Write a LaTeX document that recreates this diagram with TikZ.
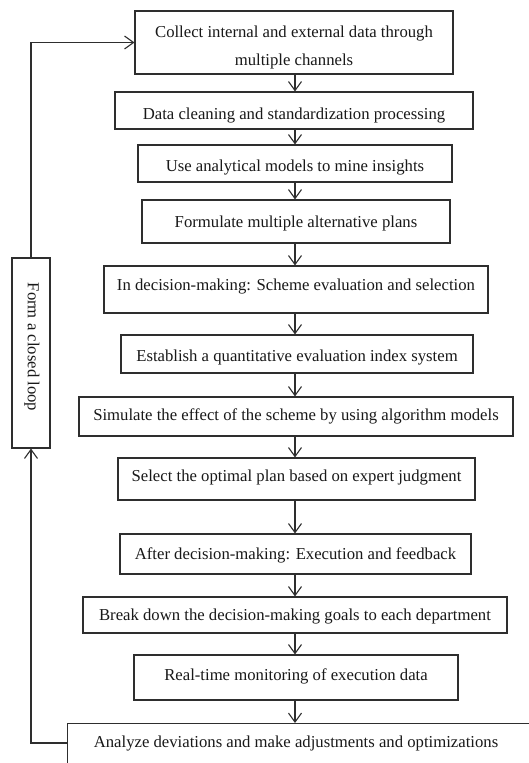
\documentclass[tikz,border=0pt]{standalone}
\usepackage{fontspec}
\setmainfont{Liberation Serif}
\usetikzlibrary{arrows.meta}
\tikzset{
  stepbox/.style={draw=black!82, line width=1.1pt, inner sep=0pt},
  txt/.style={inner sep=0pt, align=center, text=black!90, font=\fontsize{16.7}{28}\selectfont},
  flow/.style={draw=black!82, line width=1.1pt, -{Straight Barb[length=9pt,width=13pt,line width=1.1pt]}},
  edge/.style={draw=black!82, line width=1.1pt}
}
\begin{document}
\begin{tikzpicture}[x=1pt,y=-1pt]
\clip (0,0) rectangle (529,763);
\fill[white] (0,0) rectangle (529,763);
\node[stepbox, minimum width=318pt, minimum height=63pt] (b1) at (294,42.5) {};
\node[stepbox, minimum width=358pt, minimum height=37pt] (b2) at (294,110.5) {};
\node[stepbox, minimum width=314pt, minimum height=37pt] (b3) at (295,163.5) {};
\node[stepbox, minimum width=308pt, minimum height=43pt] (b4) at (296,221.5) {};
\node[stepbox, minimum width=384pt, minimum height=47pt] (b5) at (296,289.5) {};
\node[stepbox, minimum width=352pt, minimum height=38pt] (b6) at (297,354) {};
\node[stepbox, minimum width=434pt, minimum height=39pt] (b7) at (296,416.5) {};
\node[stepbox, minimum width=357pt, minimum height=42pt] (b8) at (296.5,479) {};
\node[stepbox, minimum width=351pt, minimum height=40pt] (b9) at (295.5,554) {};
\node[stepbox, minimum width=424pt, minimum height=36pt] (b10) at (295,615) {};
\node[stepbox, minimum width=324pt, minimum height=45pt] (b11) at (296,677.5) {};
\node[stepbox, minimum width=520pt, minimum height=80pt, anchor=north west] (b12) at (67,723) {};
\node[stepbox, minimum width=38pt, minimum height=190pt] (loop) at (31,353) {};

\node[txt] (t1) at (294,47.5) {Collect internal and external data through\\multiple channels};
\node[txt] (t2) at (294,115.5) {Data cleaning and standardization processing};
\node[txt] (t3) at (295,168) {Use analytical models to mine insights};
\node[txt] (t4) at (296,223) {Formulate multiple alternative plans};
\node[txt] (t5) at (296,287) {In decision-making: Scheme evaluation and selection};
\node[txt] (t6) at (297,358) {Establish a quantitative evaluation index system};
\node[txt] (t7) at (296,416.5) {Simulate the effect of the scheme by using algorithm models};
\node[txt] (t8) at (296.5,478) {Select the optimal plan based on expert judgment};
\node[txt] (t9) at (295.5,555) {After decision-making: Execution and feedback};
\node[txt] (t10) at (295,616.5) {Break down the decision-making goals to each department};
\node[txt] (t11) at (296,676) {Real-time monitoring of execution data};
\node[txt] (t12) at (296,743) {Analyze deviations and make adjustments and optimizations};
\node[txt, rotate=-90] (looptext) at (32,347) {Form a closed loop};

\coordinate (b12w) at (67,743);
\coordinate (c1) at (31,743);
\coordinate (c2) at (31,42.5);
\coordinate (ax) at (295,0);
\draw[flow] (b1.south -| ax) -- (b2.north -| ax);
\draw[flow] (b2.south -| ax) -- (b3.north -| ax);
\draw[flow] (b3.south -| ax) -- (b4.north -| ax);
\draw[flow] (b4.south -| ax) -- (b5.north -| ax);
\draw[flow] (b5.south -| ax) -- (b6.north -| ax);
\draw[flow] (b6.south -| ax) -- (b7.north -| ax);
\draw[flow] (b7.south -| ax) -- (b8.north -| ax);
\draw[flow] (b8.south -| ax) -- (b9.north -| ax);
\draw[flow] (b9.south -| ax) -- (b10.north -| ax);
\draw[flow] (b10.south -| ax) -- (b11.north -| ax);
\draw[flow] (b11.south -| ax) -- (b12.north -| ax);
\draw[flow] (b12w) -- (c1) -- (loop.south);
\draw[flow] (loop.north) -- (c2) -- (b1.west);
\end{tikzpicture}
\end{document}
